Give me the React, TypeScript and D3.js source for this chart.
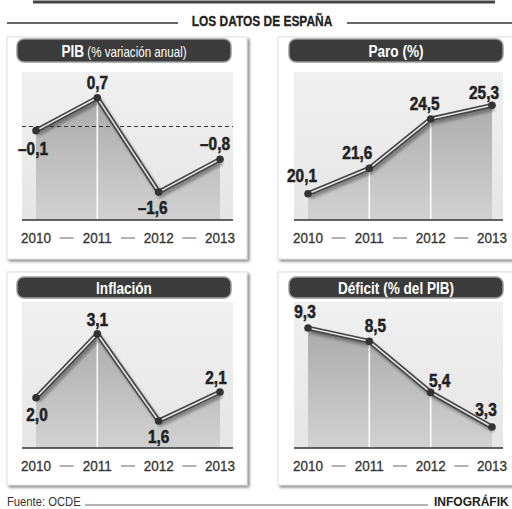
import React from 'react';
import * as d3 from 'd3';

// data
const years = ['2010', '2011', '2012', '2013'];
const pibValues = [-0.1, 0.7, -1.6, -0.8];
const paroValues = [20.1, 21.6, 24.5, 25.3];
const inflacionValues = [2.0, 3.1, 1.6, 2.1];
const deficitValues = [9.3, 8.5, 5.4, 3.3];

const FONT = '"Liberation Sans", Arial, sans-serif';

const locale = d3.formatLocale({ decimal: ',', thousands: '.', grouping: [3], currency: ['', '€'], minus: '\u2013' });
const fmt = locale.format('.1f');

type Panel = {
  title: string;
  sub?: string;
  values: number[];
  domain: [number, number];
  col: number;
  row: number;
  dividers: number[];
  zeroLine?: boolean;
  labelOffsets: [number, number][];
};

const panels: Panel[] = [
  { title: 'PIB', sub: ' (% variación anual)', values: pibValues, domain: [-2.28, 1.33], col: 0, row: 0, dividers: [1], zeroLine: true,
    labelOffsets: [[-3, 18], [0, -15], [-6, 16], [-5, -16]] },
  { title: 'Paro (%)', values: paroValues, domain: [18.56, 27.26], col: 1, row: 0, dividers: [1, 2],
    labelOffsets: [[-6, -18], [-12, -16], [-6, -15], [-8, -13]] },
  { title: 'Inflación', values: inflacionValues, domain: [1.134, 3.65], col: 0, row: 1, dividers: [1],
    labelOffsets: [[1, 17], [0, -14], [0, 16], [-4, -14]] },
  { title: 'Déficit (% del PIB)', values: deficitValues, domain: [2.03, 10.88], col: 1, row: 1, dividers: [1, 2],
    labelOffsets: [[-3, -16], [6, -16], [9, -12], [-6, -17]] },
];

const cols = [
  { panelL: 7, panelR: 247, pillL: 17, pillR: 231, baseL: 22, baseR: 233, x0: 36, x1: 220 },
  { panelL: 278, panelR: 516, pillL: 289, pillR: 503, baseL: 294, baseR: 503, x0: 308, x1: 492 },
];
const rows = [
  { panelT: 37, pillT: 39, pillB: 62, plotT: 72, base: 220, yearY: 243, panelB: 259 },
  { panelT: 272, pillT: 277, pillB: 298, plotT: 302, base: 448, yearY: 471, panelB: 485 },
];

// condensed text: horizontal squeeze of Liberation Sans
const T = ({ x, y, sx = 0.85, children, ...rest }: any) => (
  <text transform={`translate(${x},${y}) scale(${sx},1)`} {...rest}>{children}</text>
);

const PanelChart = ({ p, i }: { p: Panel; i: number }) => {
  const c = cols[p.col];
  const r = rows[p.row];
  const x = d3.scalePoint<string>().domain(years).range([c.x0, c.x1]);
  const y = d3.scaleLinear().domain(p.domain).range([r.base, r.plotT]);
  const pts = p.values.map((v, k) => [x(years[k]) as number, y(v)] as [number, number]);
  const line = d3.line()(pts) as string;
  const area = d3.area<[number, number]>().x(d => d[0]).y0(r.base).y1(d => d[1])(pts) as string;
  const midX = (c.pillL + c.pillR) / 2;
  return (
    <g>
      <rect x={c.panelL} y={r.panelT} width={c.panelR - c.panelL} height={r.panelB - r.panelT}
        fill="#fff" stroke="#d8d8d8" strokeWidth={0.8} filter="url(#panelShadow)" />
      <rect x={c.baseL} y={r.plotT} width={c.baseR - c.baseL} height={r.base - r.plotT} fill="url(#bgGrad)" />
      <path d={area} fill={`url(#areaGrad${i})`} />
      {p.dividers.map(k => (
        <line key={k} x1={pts[k][0]} x2={pts[k][0]} y1={pts[k][1]} y2={r.base} stroke="#fff" strokeWidth={1.5} />
      ))}
      {p.zeroLine && (
        <line x1={c.baseL} x2={c.baseR} y1={y(0)} y2={y(0)} stroke="#333" strokeWidth={1} strokeDasharray="4,3" />
      )}
      <path d={line} fill="none" stroke="#000" strokeOpacity={0.35} strokeWidth={5} transform="translate(2,3)" filter="url(#blur)" />
      <path d={line} fill="none" stroke="#444" strokeWidth={4.8} strokeLinejoin="round" />
      <path d={line} fill="none" stroke="#e4e4e4" strokeWidth={1.6} strokeLinejoin="round" />
      {pts.map((d, k) => <circle key={k} cx={d[0]} cy={d[1]} r={3.8} fill="#333" />)}
      {pts.map((d, k) => (
        <T key={k} x={d[0] + p.labelOffsets[k][0]} y={d[1] + p.labelOffsets[k][1]} sx={0.88} dy="0.36em"
          textAnchor="middle" fontSize={17.5} fontWeight="bold" fill="#222" stroke="#222" strokeWidth={0.5}>{fmt(p.values[k])}</T>
      ))}
      <line x1={c.baseL} x2={c.baseR} y1={r.base} y2={r.base} stroke="#333" strokeWidth={1.5} />
      {years.map(yr => (
        <T key={yr} x={x(yr)} y={r.yearY} sx={0.87} textAnchor="middle" fontSize={15.5} fill="#333" stroke="#333" strokeWidth={0.3}>{yr}</T>
      ))}
      {years.slice(1).map((yr, k) => {
        const m = ((x(years[k]) as number) + (x(yr) as number)) / 2;
        return <line key={yr} x1={m - 7} x2={m + 7} y1={r.yearY - 5} y2={r.yearY - 5} stroke="#666" strokeWidth={1} />;
      })}
      <rect x={c.pillL} y={r.pillT} width={c.pillR - c.pillL} height={r.pillB - r.pillT} rx={7}
        fill="#3b3b3b" stroke="#9a9a9a" strokeWidth={1.5} />
      <T x={midX} y={(r.pillT + r.pillB) / 2} sx={0.8} dy="0.36em" textAnchor="middle" fontSize={17} fill="#fff">
        <tspan fontWeight="bold">{p.title}</tspan>
        {p.sub && <tspan fontSize={14.5}>{p.sub}</tspan>}
      </T>
      <defs>
        <linearGradient id={`areaGrad${i}`} x1="0" x2="0" y1={r.plotT} y2={r.base} gradientUnits="userSpaceOnUse">
          <stop offset="0" stopColor="#a2a2a2" />
          <stop offset="1" stopColor="#d2d2d2" />
        </linearGradient>
      </defs>
    </g>
  );
};

const App = () => (
  <svg width={512} height={509} style={{ position: 'absolute', left: 0, top: 0, fontFamily: FONT }}>
    <defs>
      <linearGradient id="bgGrad" x1="0" x2="0" y1="0" y2="1">
        <stop offset="0" stopColor="#f0f0f0" />
        <stop offset="1" stopColor="#e6e6e6" />
      </linearGradient>
      <filter id="panelShadow" x="-5%" y="-5%" width="115%" height="115%">
        <feDropShadow dx="2" dy="2" stdDeviation="1.5" floodColor="#000" floodOpacity="0.5" />
      </filter>
      <filter id="blur"><feGaussianBlur stdDeviation="1.5" /></filter>
    </defs>
    <rect width={512} height={509} fill="#fff" />
    <line x1={33} x2={495} y1={2} y2={2} stroke="#444" strokeWidth={3} />
    <line x1={7} x2={178} y1={23} y2={23} stroke="#333" strokeWidth={1.5} />
    <line x1={347} x2={512} y1={23} y2={23} stroke="#333" strokeWidth={1.5} />
    <T x={262} y={26} sx={0.77} textAnchor="middle" fontSize={15.5} fontWeight="bold" fill="#222" stroke="#222" strokeWidth={0.3}>LOS DATOS DE ESPAÑA</T>
    {panels.map((p, i) => <PanelChart key={i} p={p} i={i} />)}
    <T x={7} y={506} sx={0.9} fontSize={12.5} fill="#333">Fuente: OCDE</T>
    <line x1={85} x2={428} y1={505} y2={505} stroke="#666" strokeWidth={1} />
    <T x={434} y={506} sx={1} fontSize={12} fontWeight="bold" fill="#222">INFOGRÁFIK</T>
  </svg>
);

export default App;
